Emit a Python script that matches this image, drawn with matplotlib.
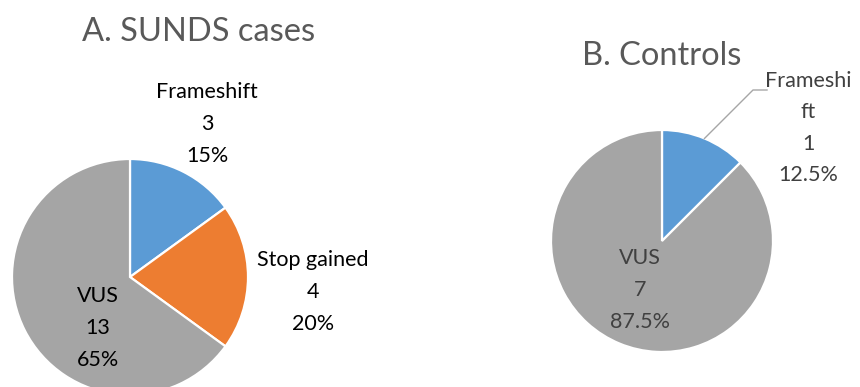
import numpy as np
import matplotlib.pyplot as plt

plt.rcParams['font.family'] = ['Lato', 'DejaVu Sans']

# SUNDS cases
case_names = ['Frameshift', 'Stop gained', 'VUS']
case_counts = [3, 4, 13]

# Controls
ctrl_names = ['Frameshi\nft', 'VUS']
ctrl_counts = [1, 7]

colors = ['#5B9BD5', '#ED7D31', '#A5A5A5']
ctrl_colors = ['#5B9BD5', '#A5A5A5']

W, H = 860, 387
fig = plt.figure(figsize=(W / 100, H / 100), dpi=100)
ax = fig.add_axes([0, 0, 1, 1])

wedge_style = dict(edgecolor='white', linewidth=1.6)

# left pie, cut off at the bottom edge
c1, r1 = (130, 110), 118
ax.pie(case_counts, colors=colors, startangle=90, counterclock=False,
       center=c1, radius=r1, wedgeprops=wedge_style)

# right pie
c2, r2 = (662, 146), 111
ax.pie(ctrl_counts, colors=ctrl_colors, startangle=90, counterclock=False,
       center=c2, radius=r2, wedgeprops=wedge_style)

ax.set_xlim(0, W)
ax.set_ylim(0, H)
ax.set_aspect('equal')
ax.axis('off')


def label_text(name, n, total):
    return '%s\n%d\n%s%%' % (name, n, '{:g}'.format(100 * n / total))


case_pos = [(207, 263), (313, 95), (98, 59)]
for name, n, (x, y) in zip(case_names, case_counts, case_pos):
    ax.text(x, y, label_text(name, n, sum(case_counts)), ha='center', va='center',
            fontsize=15.5, linespacing=1.72, color='black')

ctrl_pos = [(808, 259), (640, 97)]
for name, n, (x, y) in zip(ctrl_names, ctrl_counts, ctrl_pos):
    ax.text(x, y, label_text(name, n, sum(ctrl_counts)), ha='center', va='center',
            fontsize=15.5, linespacing=1.72, color='#404040')

# leader line for the small controls slice
mid = np.deg2rad(90 - 360 * ctrl_counts[0] / sum(ctrl_counts) / 2)
ex, ey = c2[0] + r2 * np.cos(mid), c2[1] + r2 * np.sin(mid)
ax.plot([ex, 753, 767], [ey, 297, 297], color='#A6A6A6', lw=1)

ax.text(199, 355, 'A. SUNDS cases', ha='center', va='center', fontsize=23.5, color='#595959')
ax.text(662, 331, 'B. Controls', ha='center', va='center', fontsize=23.5, color='#595959')

fig.savefig('out.png', dpi=100)
